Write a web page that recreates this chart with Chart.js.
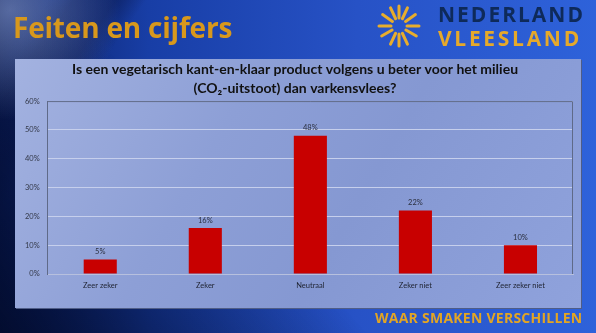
<!DOCTYPE html>
<html>
<head>
<meta charset="utf-8">
<script src="https://cdn.jsdelivr.net/npm/chart.js@4/dist/chart.umd.min.js"></script>
<style>
  html, body { margin: 0; padding: 0; }
  body {
    width: 596px; height: 333px; overflow: hidden; position: relative;
    font-family: Lato, "Open Sans", sans-serif;
    background:
      linear-gradient(125deg, rgba(255,255,255,0) 0px, rgba(255,255,255,0) 40px, rgba(10,25,80,0.55) 60px, rgba(10,25,80,0.55) 95px, rgba(255,255,255,0) 120px),
      linear-gradient(90deg, #0a1d5c 0%, #183ea6 25%, #2752c6 60%, #2e62da 100%);
  }
  #bg { position: absolute; left: 0; top: 0; }
  #heading {
    position: absolute; left: 13px; top: 13px;
    font: bold 28px "Open Sans", sans-serif; line-height: 28px; color: #d8981c; letter-spacing: -0.2px;
  }
  #brand1, #brand2 {
    position: absolute; left: 438px; font: 700 21px "Open Sans", sans-serif; line-height: 21px;
  }
  #brand1 { top: 4px; color: #0e2a5a; letter-spacing: 2px; }
  #brand2 { top: 28px; color: #e6a92a; letter-spacing: 2.7px; }
  #slogan {
    position: absolute; left: 375px; top: 311px;
    font: 700 14px "Open Sans", sans-serif; line-height: 14px; color: #e2a524; letter-spacing: 0.25px;
  }
  #panel {
    position: absolute; left: 15px; top: 59px; width: 566px; height: 249px;
    background: linear-gradient(120deg, #a3b2e0 0%, #8d9fd6 35%, #8598d2 60%, #8fa2dc 100%);
    box-shadow: 1px 1px 0 #4f5d86;
  }
  #chart { position: absolute; left: 0; top: 0; }
</style>
</head>
<body>
<canvas id="bg" width="596" height="333"></canvas>
<div id="heading">Feiten en cijfers</div>
<div id="brand1">NEDERLAND</div>
<div id="brand2">VLEESLAND</div>
<div id="slogan">WAAR SMAKEN VERSCHILLEN</div>
<div id="panel"><canvas id="chart" width="566" height="249"></canvas></div>
<script>
// Survey answers and share of respondents (%)
const categories = ['Zeer zeker', 'Zeker', 'Neutraal', 'Zeker niet', 'Zeer zeker niet'];
const shares = [5, 16, 48, 22, 10];
const yTicks = [0, 10, 20, 30, 40, 50, 60];
const titleLines = ['Is een vegetarisch kant-en-klaar product volgens u beter voor het milieu', '(CO\u2082-uitstoot) dan varkensvlees?'];

// Background decoration: darker lower-left corner and the sun logo
(function () {
  const c = document.getElementById('bg').getContext('2d');
  let g = c.createLinearGradient(0, 333, 200, 150);
  g.addColorStop(0, 'rgba(2,10,40,0.85)');
  g.addColorStop(1, 'rgba(2,10,40,0)');
  c.fillStyle = g; c.fillRect(0, 0, 596, 333);
  // light haze in upper left
  const r = c.createRadialGradient(10, 10, 0, 10, 10, 110);
  r.addColorStop(0, 'rgba(150,170,220,0.55)');
  r.addColorStop(1, 'rgba(150,170,220,0)');
  c.fillStyle = r; c.fillRect(0, 0, 200, 150);
  // sun rays
  const cx = 399, cy = 26;
  c.strokeStyle = '#e8ad2c'; c.lineCap = 'round'; c.lineWidth = 3;
  const angles = [-90, -115, -65, -145, -35, -180, 0, 150, 30, 115, 65, 90];
  angles.forEach(a => {
    const t = a * Math.PI / 180;
    c.beginPath();
    c.moveTo(cx + Math.cos(t) * 8, cy + Math.sin(t) * 8);
    c.lineTo(cx + Math.cos(t) * 20, cy + Math.sin(t) * 20);
    c.stroke();
  });
})();

// Value labels above each bar
const valueLabels = {
  id: 'valueLabels',
  afterDatasetsDraw(chart) {
    const ctx = chart.ctx;
    const meta = chart.getDatasetMeta(0);
    ctx.save();
    ctx.font = '7.5px Lato';
    ctx.fillStyle = '#2a2f3e';
    ctx.textAlign = 'center';
    ctx.textBaseline = 'bottom';
    meta.data.forEach((bar, i) => {
      ctx.fillText(shares[i] + '%', bar.x, bar.y - 4);
    });
    ctx.restore();
  }
};

// Frame on the top and right of the plot area
const plotFrame = {
  id: 'plotFrame',
  beforeDatasetsDraw(chart) {
    const a = chart.chartArea, ctx = chart.ctx;
    ctx.save();
    ctx.strokeStyle = '#5f6a88';
    ctx.lineWidth = 1;
    ctx.beginPath();
    ctx.moveTo(a.left, a.top + 0.5);
    ctx.lineTo(a.right - 0.5, a.top + 0.5);
    ctx.lineTo(a.right - 0.5, a.bottom);
    ctx.stroke();
    ctx.restore();
  }
};

new Chart(document.getElementById('chart'), {
  type: 'bar',
  data: {
    labels: categories,
    datasets: [{ data: shares, backgroundColor: '#c80000', barPercentage: 0.315, categoryPercentage: 1 }]
  },
  options: {
    responsive: false,
    animation: false,
    layout: { padding: { left: 2, right: 8, bottom: 11, top: 0 } },
    plugins: {
      legend: { display: false },
      tooltip: { enabled: false },
      title: {
        display: true,
        text: titleLines,
        color: '#111111',
        font: { family: 'Lato', weight: 'bold', size: 14, lineHeight: 1.36 },
        padding: { top: 1, bottom: 3 }
      }
    },
    scales: {
      x: {
        grid: { display: false, drawTicks: false },
        border: { color: '#b7c0de', width: 1 },
        ticks: { color: '#1e2230', font: { family: 'Lato', size: 7.5 }, padding: 7 }
      },
      y: {
        min: 0, max: 60,
        afterBuildTicks(axis) { axis.ticks = yTicks.map(v => ({ value: v })); },
        grid: { color: '#c6cfec', lineWidth: 1, drawTicks: false },
        border: { color: '#5f6a88', width: 1 },
        ticks: { color: '#333848', font: { family: 'Lato', size: 7.5 }, padding: 8, callback: v => v + '%' }
      }
    }
  },
  plugins: [valueLabels, plotFrame]
});
</script>
</body>
</html>
